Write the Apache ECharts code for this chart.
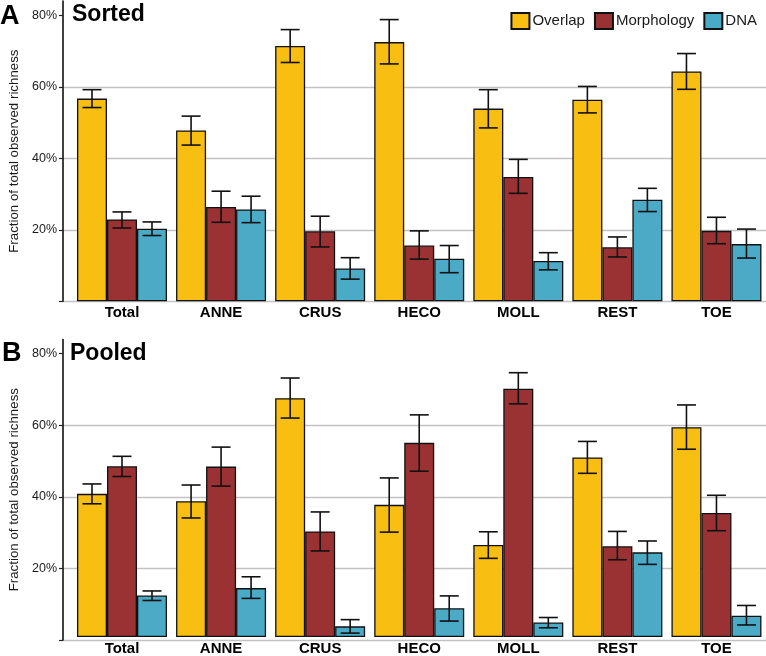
<!DOCTYPE html>
<html>
<head>
<meta charset="utf-8">
<script src="https://cdn.jsdelivr.net/npm/echarts@6/dist/echarts.min.js"></script>
<style>
html,body{margin:0;padding:0;background:#fff;}
#chart{width:766px;height:656px;}
</style>
</head>
<body>
<div id="chart"></div>
<script>
// ---- data (percent) ----
const categories = ['Total', 'ANNE', 'CRUS', 'HECO', 'MOLL', 'REST', 'TOE'];
const seriesNames = ['Overlap', 'Morphology', 'DNA'];
const yTicks = [0, 20, 40, 60, 80];
const yLabels = [20, 40, 60, 80];

// Panel A: Sorted
const sortedOverlap   = [56.7, 47.8, 71.4, 72.5, 53.9, 56.4, 64.3];
const sortedOverlapLo = [54.2, 43.7, 66.8, 66.4, 48.5, 52.7, 59.3];
const sortedOverlapHi = [59.2, 51.8, 76.0, 78.8, 59.2, 60.1, 69.3];
const sortedMorph     = [22.9, 26.4, 19.6, 15.6, 34.8, 15.1, 19.7];
const sortedMorphLo   = [20.5, 22.1, 15.2, 11.8, 30.2, 12.4, 16.1];
const sortedMorphHi   = [25.0, 30.8, 23.8, 19.7, 39.7, 18.0, 23.5];
const sortedDNA       = [20.3, 25.7, 9.2, 11.9, 11.3, 28.4, 16.0];
const sortedDNALo     = [18.4, 22.0, 6.2, 8.0, 8.8, 25.1, 12.1];
const sortedDNAHi     = [22.2, 29.4, 12.2, 15.6, 13.6, 31.6, 20.2];

// Panel B: Pooled
const pooledOverlap   = [40.4, 38.3, 67.4, 37.3, 26.0, 50.7, 59.2];
const pooledOverlapLo = [37.6, 33.6, 61.8, 29.6, 22.2, 46.2, 53.0];
const pooledOverlapHi = [43.2, 42.9, 73.1, 44.9, 29.7, 55.2, 65.5];
const pooledMorph     = [48.2, 48.1, 29.8, 54.8, 70.1, 25.6, 35.0];
const pooledMorphLo   = [45.3, 42.6, 24.3, 46.8, 65.8, 21.8, 30.0];
const pooledMorphHi   = [51.0, 53.6, 35.3, 62.7, 74.6, 29.8, 40.0];
const pooledDNA       = [11.7, 13.8, 3.0, 8.1, 4.1, 23.9, 6.0];
const pooledDNALo     = [10.3, 10.9, 1.1, 4.5, 2.6, 20.5, 3.4];
const pooledDNAHi     = [13.0, 17.0, 4.9, 11.6, 5.5, 27.1, 8.9];

// ---- styling ----
const colors = ['#F9BE12', '#9A3234', '#4BABC7'];
const FONT = '"Liberation Sans", Arial, Helvetica, sans-serif';
const BAR_W = 30;
const Y_MAX = 84;

const chart = echarts.init(document.getElementById('chart'), null, {renderer: 'canvas'});

const panels = [
  {top: 1, height: 300.3, vals: [sortedOverlap, sortedMorph, sortedDNA],
   lo: [sortedOverlapLo, sortedMorphLo, sortedDNALo], hi: [sortedOverlapHi, sortedMorphHi, sortedDNAHi]},
  {top: 339.4, height: 300.6, vals: [pooledOverlap, pooledMorph, pooledDNA],
   lo: [pooledOverlapLo, pooledMorphLo, pooledDNALo], hi: [pooledOverlapHi, pooledMorphHi, pooledDNAHi]}
];

const grid = [], xAxis = [], yAxis = [], series = [];

panels.forEach((p, pi) => {
  const gBg = pi * 2, gBar = pi * 2 + 1;
  grid.push({left: 62, right: 0, top: p.top, height: p.height, containLabel: false});
  grid.push({left: 72.45, right: -2.95, top: p.top, height: p.height, containLabel: false});

  xAxis.push({gridIndex: gBg, type: 'value', min: 0, max: 1, show: false});
  xAxis.push({
    gridIndex: gBar, type: 'category', data: categories,
    axisLine: {show: false}, axisTick: {show: false},
    axisLabel: {margin: 4, color: '#000', fontFamily: FONT, fontSize: 15, fontWeight: 'bold'}
  });

  yAxis.push({
    gridIndex: gBg, type: 'value', min: 0, max: Y_MAX, interval: 20,
    name: 'Fraction of total observed richness', nameLocation: 'middle', nameGap: 42,
    nameTextStyle: {fontFamily: FONT, fontSize: 13.3, color: '#1a1a1a'},
    axisLine: {show: true, lineStyle: {color: '#000', width: 1.5}},
    axisTick: {show: true, length: 4, customValues: yTicks, lineStyle: {color: '#222', width: 1.2}},
    axisLabel: {customValues: yLabels, margin: 6, color: '#1a1a1a', fontFamily: FONT, fontSize: 12.5,
                formatter: v => v + '%'},
    splitLine: {show: true, lineStyle: {color: ['#c2c2c2', '#c2c2c2', '#c2c2c2', '#c2c2c2', 'rgba(0,0,0,0)'], width: 1.3}}
  });
  yAxis.push({gridIndex: gBar, type: 'value', min: 0, max: Y_MAX, show: false, splitLine: {show: false}});

  seriesNames.forEach((name, si) => {
    series.push({
      name: name, type: 'bar', xAxisIndex: gBar, yAxisIndex: gBar,
      data: p.vals[si], barWidth: BAR_W, barGap: '0%',
      itemStyle: {color: colors[si], borderColor: '#111', borderWidth: 1.3},
      emphasis: {disabled: true}, z: 2
    });
  });
  seriesNames.forEach((name, si) => {
    const offset = (si - 1) * BAR_W;
    const errData = categories.map((c, ci) => [ci, p.lo[si][ci], p.hi[si][ci]]);
    series.push({
      name: name + ' error', type: 'custom', xAxisIndex: gBar, yAxisIndex: gBar,
      data: errData, z: 5, silent: true,
      renderItem: function (params, api) {
        const x = api.value(0);
        const a = api.coord([x, api.value(1)]);
        const b = api.coord([x, api.value(2)]);
        const cx = a[0] + offset;
        const hw = 9.5;
        const st = {stroke: '#111', lineWidth: 1.6};
        return {type: 'group', children: [
          {type: 'line', shape: {x1: cx, y1: a[1], x2: cx, y2: b[1]}, style: st},
          {type: 'line', shape: {x1: cx - hw, y1: a[1], x2: cx + hw, y2: a[1]}, style: st},
          {type: 'line', shape: {x1: cx - hw, y1: b[1], x2: cx + hw, y2: b[1]}, style: st}
        ]};
      }
    });
  });
});

const option = {
  backgroundColor: '#fff',
  animation: false,
  grid: grid, xAxis: xAxis, yAxis: yAxis, series: series,
  legend: {
    data: seriesNames, right: 4, top: 7, orient: 'horizontal', width: 300, icon: 'rect',
    itemWidth: 18, itemHeight: 16, itemGap: 9,
    textStyle: {fontFamily: FONT, fontSize: 15, color: '#1a1a1a', padding: [0, 0, 0, -2]}
  },
  graphic: [
    {type: 'text', left: 0, top: 3, style: {text: 'A', font: 'bold 27px ' + FONT, fill: '#000'}},
    {type: 'text', left: 72, top: 3, style: {text: 'Sorted', font: 'bold 23px ' + FONT, fill: '#000'}},
    {type: 'text', left: 2, top: 340, style: {text: 'B', font: 'bold 27px ' + FONT, fill: '#000'}},
    {type: 'text', left: 70, top: 342, style: {text: 'Pooled', font: 'bold 23px ' + FONT, fill: '#000'}}
  ]
};
chart.setOption(option);
</script>
</body>
</html>
